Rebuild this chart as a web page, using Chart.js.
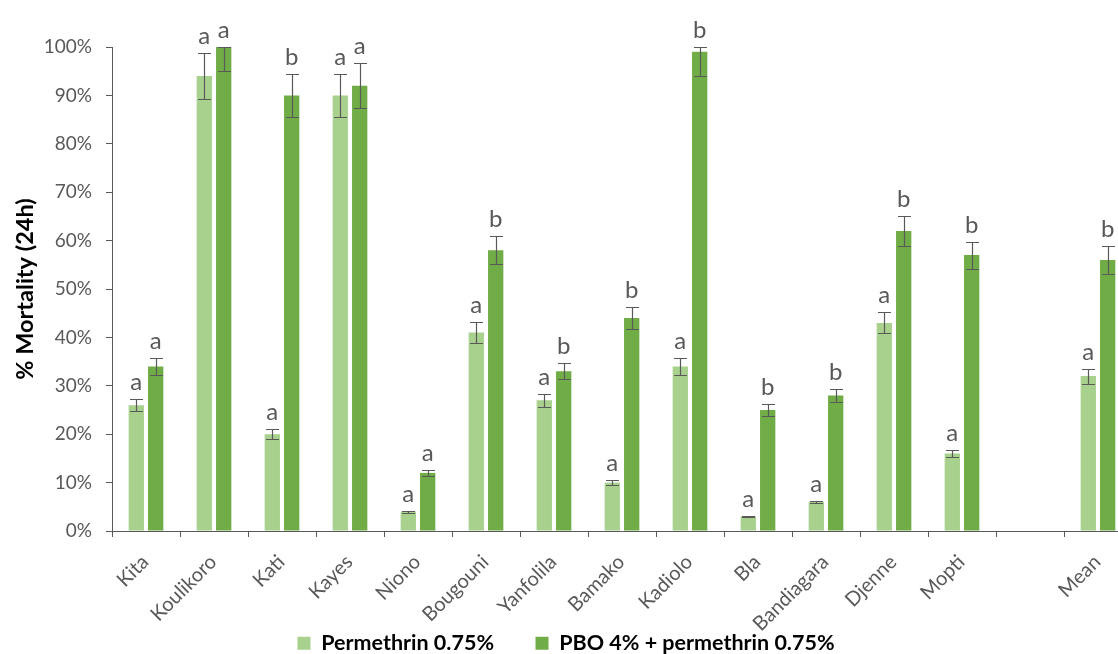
<!DOCTYPE html>
<html>
<head>
<meta charset="utf-8">
<script src="https://cdn.jsdelivr.net/npm/chart.js@4.4.1/dist/chart.umd.min.js"></script>
<style>
  body { margin: 0; background: #fff; }
  #wrap { width: 1118px; height: 654px; overflow: hidden; }
</style>
</head>
<body>
<div id="wrap"><canvas id="chart" width="1140" height="664"></canvas></div>
<script>
// sites, with a blank slot before the overall mean
const sites = ['Kita', 'Koulikoro', 'Kati', 'Kayes', 'Niono', 'Bougouni', 'Yanfolila', 'Bamako',
  'Kadiolo', 'Bla', 'Bandiagara', 'Djenne', 'Mopti', '', 'Mean'];

// % mortality after 24h
const permethrin    = [26, 94, 20, 90, 4, 41, 27, 10, 34, 3, 6, 43, 16, null, 32];
const pboPermethrin = [34, 100, 90, 92, 12, 58, 33, 44, 99, 25, 28, 62, 57, null, 56];

// error bar half-widths
const permethrinErr    = [1.2, 4.8, 1.05, 4.5, 0.2, 2.1, 1.35, 0.55, 1.8, 0.2, 0.3, 2.15, 0.8, null, 1.55];
const pboPermethrinErr = [1.7, 5, 4.5, 4.6, 0.65, 2.9, 1.65, 2.25, 5, 1.2, 1.3, 3.05, 2.8, null, 2.8];

// significance letters
const permethrinLetters    = ['a', 'a', 'a', 'a', 'a', 'a', 'a', 'a', 'a', 'a', 'a', 'a', 'a', '', 'a'];
const pboPermethrinLetters = ['a', 'a', 'b', 'a', 'a', 'b', 'b', 'b', 'b', 'b', 'b', 'b', 'b', '', 'b'];

const yTicks = [0, 10, 20, 30, 40, 50, 60, 70, 80, 90, 100];

const grey = '#595959';
Chart.defaults.font.family = 'Lato';

// whiskers and letters on top of each bar
const errorBars = {
  id: 'errorBars',
  afterDatasetsDraw(chart) {
    const { ctx } = chart;
    const y = chart.scales.y;
    ctx.save();
    chart.data.datasets.forEach((ds, i) => {
      const meta = chart.getDatasetMeta(i);
      meta.data.forEach((bar, j) => {
        const v = ds.data[j];
        if (v == null) return;
        const e = ds.errors[j];
        const top = Math.round(y.getPixelForValue(Math.min(v + e, y.max))) + 0.5;
        const bot = Math.round(y.getPixelForValue(v - e)) + 0.5;
        const x = Math.round(bar.x) + 0.5;
        const half = 6.5;
        ctx.strokeStyle = grey;
        ctx.lineWidth = 1.2;
        ctx.beginPath();
        ctx.moveTo(x, top); ctx.lineTo(x, bot);
        ctx.moveTo(x - half, top); ctx.lineTo(x + half, top);
        ctx.moveTo(x - half, bot); ctx.lineTo(x + half, bot);
        ctx.stroke();

        ctx.fillStyle = grey;
        ctx.font = '24px Lato';
        ctx.textAlign = 'center';
        ctx.textBaseline = 'alphabetic';
        ctx.fillText(ds.letters[j], bar.x, top - 10);
      });
    });
    ctx.restore();
  }
};

new Chart(document.getElementById('chart'), {
  type: 'bar',
  data: {
    labels: sites,
    datasets: [
      {
        label: 'Permethrin 0.75%',
        data: permethrin,
        errors: permethrinErr,
        letters: permethrinLetters,
        backgroundColor: '#A9D18E',
        categoryPercentage: 0.57,
        barPercentage: 0.79
      },
      {
        label: 'PBO 4% + permethrin 0.75%',
        data: pboPermethrin,
        errors: pboPermethrinErr,
        letters: pboPermethrinLetters,
        backgroundColor: '#70AD47',
        categoryPercentage: 0.57,
        barPercentage: 0.79
      }
    ]
  },
  options: {
    responsive: false,
    devicePixelRatio: 1,
    animation: false,
    layout: { padding: { top: 47, right: 8, left: 0, bottom: 0 } },
    plugins: {
      tooltip: { enabled: false },
      legend: {
        position: 'bottom',
        labels: {
          boxWidth: 13,
          boxHeight: 13,
          padding: 41.5,
          color: '#000',
          font: { size: 21.5, weight: 'bold' }
        }
      }
    },
    scales: {
      x: {
        afterFit: (s) => { s.height = 60; },
        grid: { offset: true, drawOnChartArea: false, tickLength: 6, color: grey },
        border: { color: grey },
        ticks: {
          autoSkip: false,
          minRotation: 45,
          maxRotation: 45,
          // mirrored so the rotated labels are not clipped to the axis box
          mirror: true,
          padding: -28,
          color: grey,
          font: { size: 20, lineHeight: 0.05 }
        }
      },
      y: {
        min: 0,
        max: 100,
        afterFit: (s) => { s.width = 112; },
        afterBuildTicks: (s) => { s.ticks = yTicks.map(v => ({ value: v })); },
        grid: { drawOnChartArea: false, tickLength: 6, color: grey },
        border: { color: grey },
        ticks: {
          padding: 14,
          color: grey,
          font: { size: 19 },
          callback: (v) => v + '%'
        },
        title: {
          display: true,
          text: '% Mortality (24h)',
          color: '#000',
          padding: { top: 11, bottom: 0 },
          font: { size: 23.5, weight: 'bold' }
        }
      }
    }
  },
  plugins: [errorBars]
});
</script>
</body>
</html>
